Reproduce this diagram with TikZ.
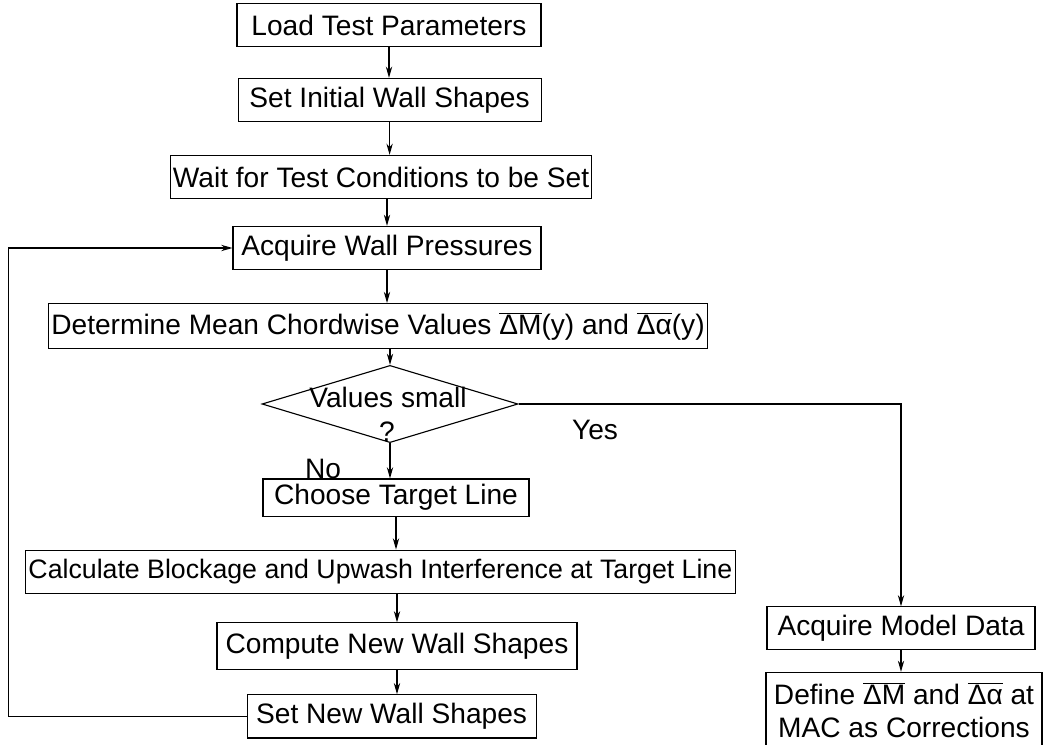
\documentclass[tikz,border=0pt]{standalone}
\usepackage{fontspec}
\setmainfont{Liberation Sans}
\usetikzlibrary{shapes.geometric,arrows.meta}

\begin{document}
\begin{tikzpicture}[>={Stealth[length=8pt,width=4.5pt]}, line width=0.8pt,
    box/.style={draw, inner sep=2pt, minimum height=1.08cm, font=\fontsize{20}{23.5}\selectfont},
    txt/.style={inner sep=0pt, font=\fontsize{20}{23.5}\selectfont}]
\useasboundingbox (0,0) rectangle (26.1,-18.625);
\node[box, minimum width=7.6cm] (load) at (9.725,-0.625) {Load Test Parameters};
\node[box, minimum width=7.575cm] (init) at (9.74,-2.5) {Set Initial Wall Shapes};
\node[box, minimum width=10.15cm] (wait) at (9.525,-4.425) {Wait for Test Conditions to be Set};
\node[box, minimum width=7.7cm] (acq) at (9.675,-6.2) {Acquire Wall Pressures};
\node[box, minimum width=16.25cm, minimum height=1.12cm] (det) at (9.45,-8.15)
    {Determine Mean Chordwise Values $\overline{\mbox{ΔM}}$(y) and $\overline{\mbox{Δα}}$(y)};
\node[draw, diamond, inner sep=0pt, minimum width=6.4cm, minimum height=1.93cm] (small) at (9.75,-10.1) {};
\node[txt] (smalla) at (9.7,-9.925) {Values small};
\node[txt] (smallb) at (9.675,-10.8) {?};
\node[txt] (yes) at (14.875,-10.75) {Yes};
\node[txt] (no) at (8.075,-11.72) {No};
\node[box, minimum width=6.65cm, minimum height=0.93cm] (choose) at (9.9,-12.44) {Choose Target Line};
\node[box, minimum width=17.6cm, minimum height=1.075cm, font=\fontsize{19}{23}\selectfont] (calc) at (9.51,-14.29)
    {Calculate Blockage and Upwash Interference at Target Line};
\node[box, minimum width=9cm, minimum height=1.175cm] (comp) at (9.925,-16.16) {Compute New Wall Shapes};
\node[box, minimum width=7.225cm] (setnew) at (9.79,-17.91) {Set New Wall Shapes};
\node[box, minimum width=6.7cm, minimum height=1.075cm] (model) at (22.525,-15.71) {Acquire Model Data};
\node[box, minimum width=6.9cm, minimum height=1.9cm, align=center] (define) at (22.6,-17.76)
    {Define $\overline{\mbox{ΔM}}$ and $\overline{\mbox{Δα}}$ at\\MAC as Corrections};
\coordinate (loop) at (0.22,-17.91);
\draw[->] (load.south) -- (load.south |- init.north);
\draw[->] (init.south) -- (init.south |- wait.north);
\draw[->] (acq.north |- wait.south) -- (acq.north);
\draw[->] (acq.south) -- (acq.south |- det.north);
\draw[->] (small.north |- det.south) -- (small.north);
\draw[->] (small.south) -- (small.south |- choose.north);
\draw[->] (choose.south) -- (choose.south |- calc.north);
\draw[->] (comp.north |- calc.south) -- (comp.north);
\draw[->] (comp.south) -- (comp.south |- setnew.north);
\draw[->] (small.east) -| (model.north);
\draw[->] (model.south) -- (model.south |- define.north);
\draw[->] (setnew.west) -- (loop) |- (acq.west);
\end{tikzpicture}
\end{document}
